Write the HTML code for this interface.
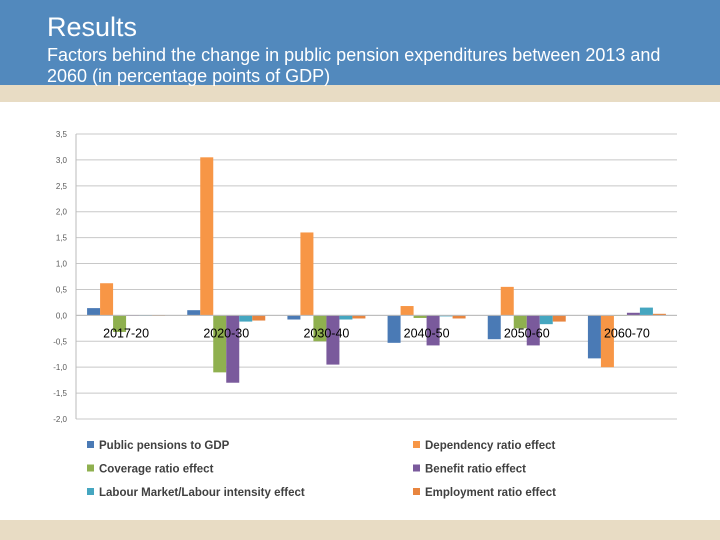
<!DOCTYPE html>
<html><head><meta charset="utf-8"><style>
body{margin:0;width:720px;height:540px;overflow:hidden;background:#fff;font-family:"Liberation Sans",sans-serif;position:relative}
#hdr{position:absolute;left:0;top:0;width:720px;height:85px;background:#5289bd}
#band{position:absolute;left:0;top:85px;width:720px;height:17px;background:#e8dcc4}
#foot{position:absolute;left:0;top:520px;width:720px;height:20px;background:#e8dcc4}
#t1{position:absolute;left:47px;top:12px;color:#fff;font-size:27px}
#t2{position:absolute;left:47px;top:45px;color:#fff;font-size:18px;line-height:21px;width:640px}
svg{position:absolute;left:0;top:0}
</style></head><body>
<div id="hdr"></div>
<div id="band"></div>
<div id="foot"></div>
<div id="t1">Results</div>
<div id="t2">Factors behind the change in public pension expenditures between 2013 and 2060 (in percentage points of GDP)</div>
<svg id="chart" width="720" height="540"></svg>
<script>
const categories=["2017-20","2020-30","2030-40","2040-50","2050-60","2060-70"];
const seriesNames=["Public pensions to GDP","Dependency ratio effect","Coverage ratio effect","Benefit ratio effect","Labour Market/Labour intensity effect","Employment ratio effect"];
const pensions=[0.14,0.10,-0.08,-0.53,-0.46,-0.83];
const dependency=[0.62,3.05,1.60,0.18,0.55,-1.00];
const coverage=[-0.32,-1.10,-0.50,-0.05,-0.25,0.00];
const benefit=[0.00,-1.30,-0.95,-0.58,-0.58,0.05];
const labour=[-0.01,-0.12,-0.08,-0.02,-0.17,0.15];
const employment=[-0.01,-0.10,-0.06,-0.06,-0.12,0.03];
const yTicks=[3.5,3.0,2.5,2.0,1.5,1.0,0.5,0.0,-0.5,-1.0,-1.5,-2.0];
const series=[pensions,dependency,coverage,benefit,labour,employment];
const colors=["#4a7ab5","#f79646","#8fb04f","#7a5a9c","#45a6c0","#e8853f"];
const svg=document.getElementById('chart');const NS="http://www.w3.org/2000/svg";
const x0=76,x1=677,yTop=134,yBot=419,vMax=3.5,vMin=-2.0;
function y(v){return yTop+(vMax-v)/(vMax-vMin)*(yBot-yTop);}
const gw=(x1-x0)/categories.length,bw=13;
function el(t,a){const e=document.createElementNS(NS,t);for(const k in a)e.setAttribute(k,a[k]);svg.appendChild(e);return e;}
yTicks.forEach(t=>{
 const l=el('line',{x1:x0,x2:x1,y1:y(t),y2:y(t),stroke:'#c8c8c8','stroke-width':1});
 
 
 const tx=el('text',{x:x0-9,y:y(t)+3,'font-size':8,fill:'#595959','text-anchor':'end'});
 tx.textContent=t.toFixed(1).replace('.',',');
 
 
});
const ax=el('line',{x1:x0,x2:x0,y1:yTop,y2:yBot,stroke:'#bbb'});


categories.forEach((c,i)=>{
 const cx=x0+gw*(i+0.5);
 series.forEach((s,j)=>{
  const v=s[i];const bx=cx-3*bw+j*bw;
  const r=el('rect',{x:bx,y:Math.min(y(v),y(0)),width:bw,height:Math.max(Math.abs(y(v)-y(0)),0.6),fill:colors[j]});
  
  
 });
});
const zl=el('line',{x1:x0,x2:x1,y1:y(0),y2:y(0),stroke:'#bbb'});


categories.forEach((c,i)=>{
 const cx=x0+gw*(i+0.5);
 const t=el('text',{x:cx,y:y(0)+22,'font-size':12.5,fill:'#000','text-anchor':'middle'});
 t.textContent=c;
 
 
});
seriesNames.forEach((n,j)=>{
 const lx=j%2?413:87,ly=445+Math.floor(j/2)*23.5;
 const r=el('rect',{x:lx,y:ly-4,width:7,height:7,fill:colors[j]});
 
 
 const t=el('text',{x:lx+12,y:ly+4,'font-size':11.5,fill:'#404040','font-weight':'bold'});
 t.textContent=n;
 
 
});
</script>
</body></html>
